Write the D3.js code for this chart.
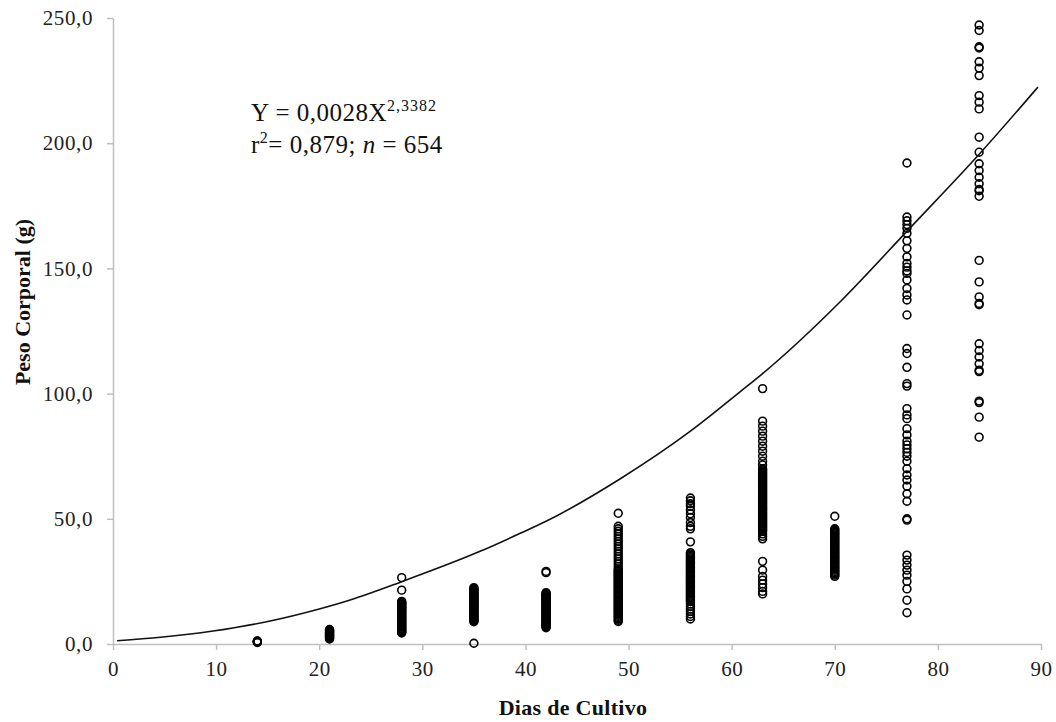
<!DOCTYPE html>
<html>
<head>
<meta charset="utf-8">
<script src="https://cdn.jsdelivr.net/npm/d3@7"></script>
<style>
  body { margin: 0; background: #fff; }
  svg { display: block; font-family: "Liberation Serif", "Times New Roman", serif; }
</style>
</head>
<body>
<div id="chart"></div>
<script>
// sampling days
const dias = [14, 21, 28, 35, 42, 49, 56, 63, 70, 77, 84];

// body weight (g) read per sampling day
const peso14 = [0.6, 0.8, 0.9, 1.0, 1.1, 1.2];
const peso21 = [2.0, 2.2, 2.4, 2.6, 2.8, 3.0, 3.2, 3.4, 3.6, 3.8, 4.0, 4.2, 4.4, 4.6, 4.8, 5.0, 5.2, 5.4, 5.6, 5.8];
const peso28 = [26.5, 21.5, 17.0, 16.7, 16.3, 16.0, 15.7, 15.3, 15.0, 14.7, 14.3, 14.0, 13.7, 13.3, 13.0, 12.7, 12.3, 12.0, 11.7, 11.3, 11.0, 10.7, 10.3, 10.0, 9.7, 9.3, 9.0, 8.7, 8.3, 8.0, 7.7, 7.3, 7.0, 6.7, 6.3, 6.0, 5.7, 5.3, 5.0, 4.7, 4.4];
const peso35 = [22.5, 22.2, 21.8, 21.5, 21.2, 20.8, 20.5, 20.2, 19.8, 19.5, 19.2, 18.8, 18.5, 18.2, 17.8, 17.5, 17.2, 16.8, 16.5, 16.2, 15.8, 15.5, 15.2, 14.8, 14.5, 14.2, 13.8, 13.5, 13.2, 12.8, 12.5, 12.2, 11.8, 11.5, 11.2, 10.8, 10.5, 10.2, 9.8, 9.5, 9.2, 8.9, 0.3];
const peso42 = [29.0, 28.5, 20.5, 20.2, 19.8, 19.5, 19.2, 18.8, 18.5, 18.2, 17.8, 17.5, 17.2, 16.8, 16.5, 16.2, 15.8, 15.5, 15.2, 14.8, 14.5, 14.2, 13.8, 13.5, 13.2, 12.8, 12.5, 12.2, 11.8, 11.5, 11.2, 10.8, 10.5, 10.2, 9.8, 9.5, 9.2, 8.8, 8.5, 8.2, 7.8, 7.5, 7.2, 6.8, 6.5];
const peso49 = [52.2, 47.0, 46.0, 45.0, 44.0, 43.0, 42.0, 41.0, 40.0, 39.0, 38.0, 37.0, 36.0, 35.0, 34.0, 33.0, 32.0, 31.0, 30.0, 29.5, 29.0, 28.5, 28.0, 27.5, 27.0, 26.5, 26.0, 25.5, 25.0, 24.5, 24.0, 23.5, 23.0, 22.5, 22.0, 21.5, 21.0, 20.5, 20.0, 19.5, 19.0, 18.5, 18.0, 17.5, 17.0, 16.5, 16.0, 15.5, 15.0, 14.5, 14.0, 13.5, 13.0, 12.5, 12.0, 11.5, 11.0, 10.5, 10.0, 9.5, 9.0];
const peso56 = [58.3, 57.2, 56.0, 55.0, 53.5, 52.0, 50.5, 48.5, 47.0, 46.0, 40.8, 36.5, 36.0, 35.5, 35.0, 34.5, 34.0, 33.5, 33.0, 32.5, 32.0, 31.5, 31.0, 30.5, 30.0, 29.5, 29.0, 28.5, 28.0, 27.5, 27.0, 26.5, 26.0, 25.5, 25.0, 24.5, 24.0, 23.5, 23.0, 22.5, 22.0, 21.5, 21.0, 20.5, 20.0, 19.5, 19.0, 18.5, 18.0, 17.5, 17.0, 16.0, 15.0, 14.0, 13.0, 12.0, 11.0, 10.0];
const peso63 = [102, 89, 87, 85, 83, 81, 79, 77, 75, 73, 71.5, 70, 69.5, 69, 68.5, 68, 67.5, 67, 66.5, 66, 65.5, 65, 64.5, 64, 63.5, 63, 62.5, 62, 61.5, 61, 60.5, 60, 59.5, 59, 58.5, 58, 57.5, 57, 56.5, 56, 55.5, 55, 54.5, 54, 53.5, 53, 52.5, 52, 51.5, 51, 50.5, 50, 49.5, 49, 48.5, 48, 47.5, 47, 46.5, 46, 45.5, 45, 44, 43, 42, 33, 29.5, 27, 25.5, 24, 22.5, 21, 20];
const peso70 = [51, 46, 45.5, 45, 44.5, 44, 43.5, 43, 42.5, 42, 41.5, 41, 40.5, 40, 39.5, 39, 38.5, 38, 37.5, 37, 36.5, 36, 35.5, 35, 34.5, 34, 33.5, 33, 32.5, 32, 31.5, 31, 30.5, 30, 29.5, 29, 28.5, 28, 27.5, 27];
const peso77 = [192.1, 170.5, 169, 167.5, 166, 164, 161, 158, 154.6, 152, 150.5, 149, 148, 145.4, 142, 139.4, 137.4, 131.4, 118, 116, 110.5, 104, 103, 94, 91.5, 90, 86, 83.5, 81, 79.5, 78, 76.5, 75, 73, 70, 67.5, 65.5, 63, 60, 57, 50, 49.5, 35.5, 33.5, 31.5, 29.5, 27.5, 25, 22, 17.5, 12.5];
const peso84 = [247.2, 245, 238.5, 238, 232.5, 230, 227, 219, 216.4, 213.7, 202.4, 196.4, 191.8, 189.1, 186.4, 183.8, 181.5, 181, 178.8, 153.2, 144.6, 138.6, 136, 135.5, 119.9, 117.2, 114.6, 111.9, 109.3, 108.8, 97, 96.4, 90.6, 82.6];

const pesosPorDia = [peso14, peso21, peso28, peso35, peso42, peso49, peso56, peso63, peso70, peso77, peso84];

// fitted trend line
const curvaDias = [0.4, 4.6, 9.7, 14.9, 20, 23, 28, 35.6, 39.5, 42, 49.2, 56, 60.9, 63, 70.6, 77.1, 84.2, 89.7];
const curvaPeso = [1.3, 2.7, 5.2, 8.9, 14, 17.6, 24.9, 37, 44.2, 49, 66, 85, 101, 108, 137, 165.3, 196.5, 222.4];

// axis ticks
const xTicks = [0, 10, 20, 30, 40, 50, 60, 70, 80, 90];
const yTicks = [0, 50, 100, 150, 200, 250];

const width = 1056, height = 722;
const margin = { top: 18, right: 15, bottom: 78, left: 113 };

const svg = d3.select("#chart").append("svg")
  .attr("width", width)
  .attr("height", height);

const xScale = d3.scaleLinear().domain([0, 90]).range([margin.left, width - margin.right]);
const yScale = d3.scaleLinear().domain([0, 250]).range([height - margin.bottom, margin.top]);

const fmt = d => d3.format(".1f")(d).replace(".", ",");
const axisColor = "#bfbfbf";

// x axis
const xAxis = d3.axisBottom(xScale).tickValues(xTicks).tickSize(6).tickSizeOuter(0).tickPadding(11);
const xg = svg.append("g")
  .attr("transform", `translate(0,${yScale(0)})`)
  .call(xAxis);
xg.select(".domain").attr("stroke", axisColor).attr("stroke-width", 1.5);
xg.selectAll(".tick line").attr("stroke", axisColor).attr("stroke-width", 1.5);
xg.selectAll(".tick text")
  .attr("font-family", "Liberation Serif, serif")
  .attr("font-size", 21)
  .attr("letter-spacing", 0.5)
  .attr("fill", "#222");

// y axis
const yAxis = d3.axisLeft(yScale).tickValues(yTicks).tickSize(6).tickSizeOuter(0).tickPadding(14).tickFormat(fmt);
const yg = svg.append("g")
  .attr("transform", `translate(${xScale(0)},0)`)
  .call(yAxis);
yg.select(".domain").attr("stroke", axisColor).attr("stroke-width", 1.5);
yg.selectAll(".tick line").attr("stroke", axisColor).attr("stroke-width", 1.5);
yg.selectAll(".tick text")
  .attr("font-family", "Liberation Serif, serif")
  .attr("font-size", 21)
  .attr("letter-spacing", 0.6)
  .attr("fill", "#222");

// axis titles
svg.append("text")
  .attr("x", 573)
  .attr("y", 715)
  .attr("text-anchor", "middle")
  .attr("font-size", 22)
  .attr("font-weight", "bold")
  .attr("letter-spacing", 0.3)
  .attr("fill", "#111")
  .text("Dias de Cultivo");

svg.append("text")
  .attr("transform", "translate(30,302) rotate(-90)")
  .attr("text-anchor", "middle")
  .attr("font-size", 22)
  .attr("font-weight", "bold")
  .attr("fill", "#111")
  .text("Peso Corporal (g)");

// scatter points
const pontos = [];
dias.forEach((d, i) => {
  pesosPorDia[i].forEach(p => pontos.push({ dia: d, peso: p }));
});

svg.append("g")
  .selectAll("circle")
  .data(pontos)
  .join("circle")
  .attr("cx", d => xScale(d.dia))
  .attr("cy", d => yScale(d.peso))
  .attr("r", 3.9)
  .attr("fill", "none")
  .attr("stroke", "#000")
  .attr("stroke-width", 1.6);

// trend line
const curva = curvaDias.map((d, i) => [d, curvaPeso[i]]);
svg.append("path")
  .datum(curva)
  .attr("fill", "none")
  .attr("stroke", "#111")
  .attr("stroke-width", 1.6)
  .attr("d", d3.line()
    .x(d => xScale(d[0]))
    .y(d => yScale(d[1]))
    .curve(d3.curveMonotoneX));

// equation
const eq = svg.append("g").attr("fill", "#111").attr("font-size", 25);
const l1 = eq.append("text").attr("x", 251).attr("y", 121).attr("letter-spacing", 0.5);
l1.append("tspan").text("Y = 0,0028X");
l1.append("tspan").attr("font-size", 16).attr("letter-spacing", 1).attr("dy", -10).text("2,3382");

const l2 = eq.append("text").attr("x", 251).attr("y", 153).attr("letter-spacing", 0.5);
l2.append("tspan").text("r");
l2.append("tspan").attr("font-size", 16).attr("dy", -10).text("2");
l2.append("tspan").attr("dy", 10).text("= 0,879; ");
l2.append("tspan").attr("font-style", "italic").text("n");
l2.append("tspan").text(" = 654");
</script>
</body>
</html>
